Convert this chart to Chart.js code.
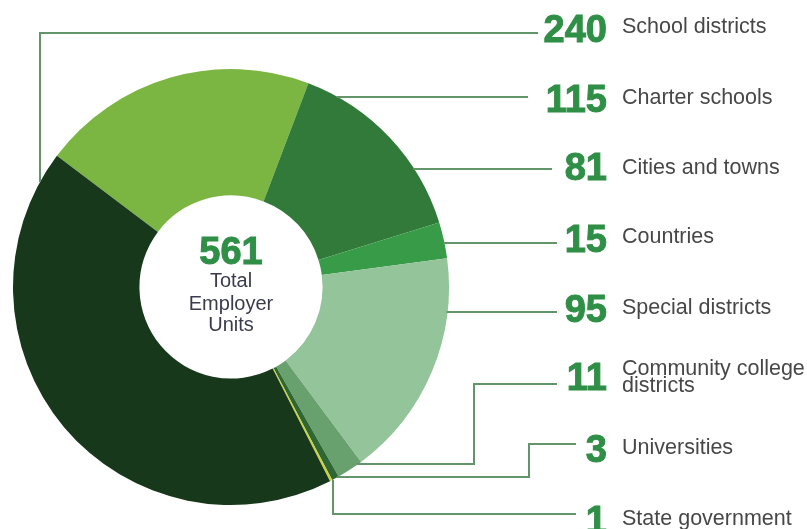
<!DOCTYPE html>
<html>
<head>
<meta charset="utf-8">
<script src="https://cdn.jsdelivr.net/npm/chart.js@4"></script>
<style>
  html, body { margin: 0; padding: 0; background: #fff; }
  #wrap { width: 807px; height: 529px; position: relative; }
</style>
</head>
<body>
<div id="wrap"><canvas id="unitsChart"></canvas></div>
<script>
// slices in clockwise order, starting top-left
const categories = ['Charter schools', 'Cities and towns', 'Countries', 'Special districts',
  'Community college districts', 'Universities', 'State government', 'School districts'];
const unitCounts = [115, 81, 15, 95, 11, 3, 1, 240];
const sliceColors = ['#7bb642', '#327a3a', '#379b48', '#93c49a', '#68a06e', '#2e6634', '#c9d33f', '#17381b'];
const totalLabel = ['Total', 'Employer', 'Units'];

// label rows on the right (same order as categories): text lines + baselines
const labelLines = [['Charter schools'], ['Cities and towns'], ['Countries'], ['Special districts'],
  ['Community college', 'districts'], ['Universities'], ['State government'], ['School districts']];
const numBase = [112, 180, 252, 322, 390, 462, 533, 42];
const textBase = [[104], [174], [243], [314], [375, 392], [454], [525], [33]];

// leader lines: start on the ring edge, then elbows
const leaders = [
  { y: 97, x2: 528 },
  { y: 169, x2: 552 },
  { y: 243, x2: 557 },
  { y: 312, x2: 557 },
  { y: 464, ex: 474, y2: 384, x2: 557 },
  { y: 477, ex: 529, y2: 444, x2: 576 },
  { vx: 333, down: true, y2: 514, x2: 576 },
  { vx: 40, down: false, y2: 33, x2: 538 }
];

const annotate = {
  id: 'annotate',
  afterDraw(chart) {
    const ctx = chart.ctx;
    const arc = chart.getDatasetMeta(0).data[0];
    const cx = arc.x, cy = arc.y, r = arc.outerRadius;
    ctx.save();
    // leaders
    ctx.strokeStyle = '#62966a';
    ctx.lineWidth = 2;
    leaders.forEach(l => {
      ctx.beginPath();
      if (l.vx !== undefined) {
        const dx = l.vx - cx;
        const dy = Math.sqrt(r * r - dx * dx);
        ctx.moveTo(l.vx, l.down ? cy + dy : cy - dy);
        ctx.lineTo(l.vx, l.y2);
        ctx.lineTo(l.x2, l.y2);
      } else {
        const dy = l.y - cy;
        const x0 = cx + Math.sqrt(Math.max(r * r - dy * dy, 0)) - 1;
        ctx.moveTo(x0, l.y);
        if (l.ex !== undefined) {
          ctx.lineTo(l.ex, l.y);
          ctx.lineTo(l.ex, l.y2);
        }
        ctx.lineTo(l.x2, l.y2 !== undefined ? l.y2 : l.y);
      }
      ctx.stroke();
    });
    // numbers and labels
    ctx.textBaseline = 'alphabetic';
    unitCounts.forEach((v, i) => {
      ctx.font = 'bold 38px "Liberation Sans", Arial, sans-serif';
      ctx.fillStyle = '#2f8f46';
      ctx.strokeStyle = '#2f8f46';
      ctx.lineWidth = 1;
      ctx.textAlign = 'right';
      ctx.fillText(String(v), 607, numBase[i]);
      ctx.strokeText(String(v), 607, numBase[i]);
      ctx.font = '21.5px "Liberation Sans", Arial, sans-serif';
      ctx.fillStyle = '#474747';
      ctx.textAlign = 'left';
      labelLines[i].forEach((t, k) => ctx.fillText(t, 622, textBase[i][k]));
    });
    // centre total
    const total = unitCounts.reduce((a, b) => a + b, 0);
    ctx.textAlign = 'center';
    ctx.font = 'bold 38px "Liberation Sans", Arial, sans-serif';
    ctx.fillStyle = '#2f8f46';
    ctx.strokeStyle = '#2f8f46';
    ctx.fillText(String(total), cx, 264);
    ctx.strokeText(String(total), cx, 264);
    ctx.font = '20px "Liberation Sans", Arial, sans-serif';
    ctx.fillStyle = '#3b3b4d';
    [287, 310, 331].forEach((y, k) => ctx.fillText(totalLabel[k], cx, y));
    ctx.restore();
  }
};

document.addEventListener('DOMContentLoaded', () => {
  const ctx = document.getElementById('unitsChart').getContext('2d');
  try {
    new Chart(ctx, {
      type: 'doughnut',
      data: {
        labels: categories,
        datasets: [{
          data: unitCounts,
          backgroundColor: sliceColors,
          borderWidth: 0
        }]
      },
      options: {
        responsive: true,
        maintainAspectRatio: false,
        animation: false,
        rotation: -53,
        cutout: '42%',
        layout: { padding: { left: 13, top: 69, right: 358, bottom: 24 } },
        plugins: { legend: { display: false }, tooltip: { enabled: false } }
      },
      plugins: [annotate]
    });
  } catch (error) {
    console.error("Chart.js Error: ", error);
  }
});
</script>
</body>
</html>
